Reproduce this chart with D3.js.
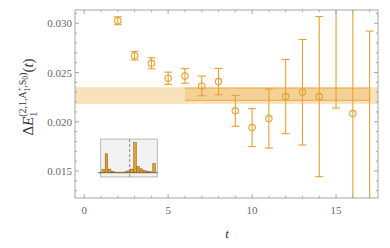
<!DOCTYPE html>
<html>
<head>
<meta charset="UTF-8">
<script src="https://d3js.org/d3.v7.min.js"></script>
<style>
  body { margin: 0; background: #fff; }
  svg text { font-family: "Liberation Serif", "DejaVu Serif", serif; }
</style>
</head>
<body>
<svg id="chart"></svg>
<script>
  // effective energy shift per time slice
  const tVals = [2, 3, 4, 5, 6, 7, 8, 9, 10, 11, 12, 13, 14, 15, 16, 17]
  const means = [0.03026, 0.02671, 0.02594, 0.02442, 0.02466, 0.02364, 0.02408, 0.02111,
                 0.01941, 0.02033, 0.02256, 0.0230, 0.02256, 0.0325, 0.02083, 0.0105]
  const errs = [0.0004, 0.00044, 0.00056, 0.00062, 0.00074, 0.001, 0.00134, 0.00156,
                0.00193, 0.003, 0.00377, 0.00536, 0.00813, 0.0111, 0.012, 0.0187]

  // wide reference band, fit band (t range + value range)
  const refBand = [0.02182, 0.02351]
  const fitRange = [6, 17]
  const fitBand = [0.02217, 0.02341]

  const xTicks = [0, 5, 10, 15]
  const yTicks = [0.015, 0.020, 0.025, 0.030]

  // inset histogram (relative weights)
  const insetIdx = d3.range(17)
  const insetVals = [0.10, 0.63, 0.12, 0.05, 0.02, 0.02, 0.02, 0.03, 0.06,
                     0.12, 1.0, 0.2, 0.13, 0.07, 0.05, 0.03, 0.3]
  const insetCut = 8.3

  const width = 390, height = 248
  const m = { left: 75, right: 12, top: 10, bottom: 50 }
  const orange = '#e9a030'

  const svg = d3.select('#chart').attr('width', width).attr('height', height)

  const x = d3.scaleLinear().domain([-0.55, 17.5]).range([m.left, width - m.right])
  const y = d3.scaleLinear().domain([0.01226, 0.03135]).range([height - m.bottom, m.top])

  svg.append('clipPath').attr('id', 'clip')
    .append('rect')
    .attr('x', m.left).attr('y', m.top)
    .attr('width', width - m.left - m.right)
    .attr('height', height - m.top - m.bottom)

  const plot = svg.append('g').attr('clip-path', 'url(#clip)')

  // reference band
  plot.append('rect')
    .attr('x', m.left).attr('width', width - m.left - m.right)
    .attr('y', y(refBand[1])).attr('height', y(refBand[0]) - y(refBand[1]))
    .attr('fill', '#f8e2bb')

  // fit band
  plot.append('rect')
    .attr('x', x(fitRange[0])).attr('width', x(fitRange[1]) - x(fitRange[0]))
    .attr('y', y(fitBand[1])).attr('height', y(fitBand[0]) - y(fitBand[1]))
    .attr('fill', '#f3d197')
  fitBand.forEach(v => {
    plot.append('line')
      .attr('x1', x(fitRange[0])).attr('x2', x(fitRange[1]))
      .attr('y1', y(v)).attr('y2', y(v))
      .attr('stroke', '#efb452').attr('stroke-width', 1.2)
  })

  // error bars
  const pts = tVals.map((t, i) => ({ t: t, v: means[i], e: errs[i] }))
  const eb = plot.append('g').attr('stroke', orange).attr('stroke-width', 1.1).attr('fill', 'none')
  pts.forEach(d => {
    const cx = x(d.t)
    eb.append('line').attr('x1', cx).attr('x2', cx)
      .attr('y1', y(d.v - d.e)).attr('y2', y(d.v + d.e))
    ;[d.v - d.e, d.v + d.e].forEach(v => {
      eb.append('line').attr('x1', cx - 4).attr('x2', cx + 4)
        .attr('y1', y(v)).attr('y2', y(v))
    })
    eb.append('circle').attr('cx', cx).attr('cy', y(d.v)).attr('r', 3.2)
  })

  // frame
  const x0 = m.left, x1 = width - m.right, y0 = height - m.bottom, y1 = m.top
  const frame = svg.append('g').attr('stroke', '#a6a6a6').attr('stroke-width', 1)
  frame.append('rect').attr('x', x0).attr('y', y1).attr('width', x1 - x0).attr('height', y0 - y1).attr('fill', 'none')

  // x ticks (bottom + top)
  d3.range(0, 18).forEach(t => {
    const major = t % 5 === 0
    const len = major ? 4 : 2.2
    frame.append('line').attr('x1', x(t)).attr('x2', x(t)).attr('y1', y0).attr('y2', y0 - len)
    frame.append('line').attr('x1', x(t)).attr('x2', x(t)).attr('y1', y1).attr('y2', y1 + len)
  })
  // y ticks (left + right)
  d3.range(13, 32).forEach(k => {
    const v = k / 1000
    const major = k % 5 === 0
    const len = major ? 4 : 2.2
    frame.append('line').attr('x1', x0).attr('x2', x0 + len).attr('y1', y(v)).attr('y2', y(v))
    frame.append('line').attr('x1', x1).attr('x2', x1 - len).attr('y1', y(v)).attr('y2', y(v))
  })

  svg.append('g').selectAll('text').data(xTicks).join('text')
    .attr('x', d => x(d)).attr('y', y0 + 16)
    .attr('text-anchor', 'middle').attr('font-size', 11).attr('fill', '#666')
    .text(d => d)

  svg.append('g').selectAll('text').data(yTicks).join('text')
    .attr('x', x0 - 3).attr('y', d => y(d) + 4)
    .attr('text-anchor', 'end').attr('font-size', 11).attr('fill', '#666')
    .text(d => d3.format('.3f')(d))

  // axis labels
  svg.append('text').attr('x', 227).attr('y', 238)
    .attr('text-anchor', 'middle').attr('font-size', 13).attr('font-style', 'italic').attr('fill', '#333')
    .text('t')

  const yl = svg.append('text').attr('transform', 'translate(33,97) rotate(-90)')
    .attr('text-anchor', 'middle').attr('font-size', 15).attr('fill', '#333')
  yl.append('tspan').text('Δ')
  yl.append('tspan').attr('font-style', 'italic').text('E')
  yl.append('tspan').attr('font-size', 10).attr('dy', 3.5).text('1')
  yl.append('tspan').attr('font-size', 10).attr('dx', -5).attr('dy', -11).text('(2,1,A')
  yl.append('tspan').attr('font-size', 7.5).attr('dy', -3.5).text('+')
  yl.append('tspan').attr('font-size', 7.5).attr('dx', -4.5).attr('dy', 7.5).text('1')
  yl.append('tspan').attr('font-size', 10).attr('dy', -4).text(',S')
  yl.append('tspan').attr('font-size', 7.5).attr('dy', 2.5).text('0')
  yl.append('tspan').attr('font-size', 10).attr('dy', -2.5).text(')')
  yl.append('tspan').attr('dy', 7.5).text('(')
  yl.append('tspan').attr('font-style', 'italic').text('t')
  yl.append('tspan').text(')')

  // inset
  const xi = d3.scaleLinear().domain([-0.8, 17]).range([100.7, 157.3])
  const yi = d3.scaleLinear().domain([0, 1]).range([172.7, 142.7])
  const inset = svg.append('g')
  inset.append('rect')
    .attr('x', xi(-0.8)).attr('width', xi(17) - xi(-0.8))
    .attr('y', yi(1.12)).attr('height', yi(-0.143) - yi(1.12))
    .attr('fill', '#f2f2f2').attr('stroke', '#a8a8a8').attr('stroke-width', 0.8)
  inset.append('line')
    .attr('x1', xi(insetCut)).attr('x2', xi(insetCut))
    .attr('y1', yi(1.12)).attr('y2', yi(-0.143))
    .attr('stroke', '#888').attr('stroke-dasharray', '3,2').attr('stroke-width', 1)
  inset.append('line')
    .attr('x1', xi(-1.6)).attr('x2', xi(17))
    .attr('y1', yi(0)).attr('y2', yi(0))
    .attr('stroke', '#333').attr('stroke-width', 0.8)
  inset.selectAll('rect.bar').data(insetIdx).join('rect')
    .attr('class', 'bar')
    .attr('x', d => xi(d) - 1.3).attr('width', 2.6)
    .attr('y', d => yi(insetVals[d])).attr('height', d => yi(0) - yi(insetVals[d]))
    .attr('fill', '#e8a020').attr('stroke', '#5a3a00').attr('stroke-width', 0.4)
</script>
</body>
</html>
